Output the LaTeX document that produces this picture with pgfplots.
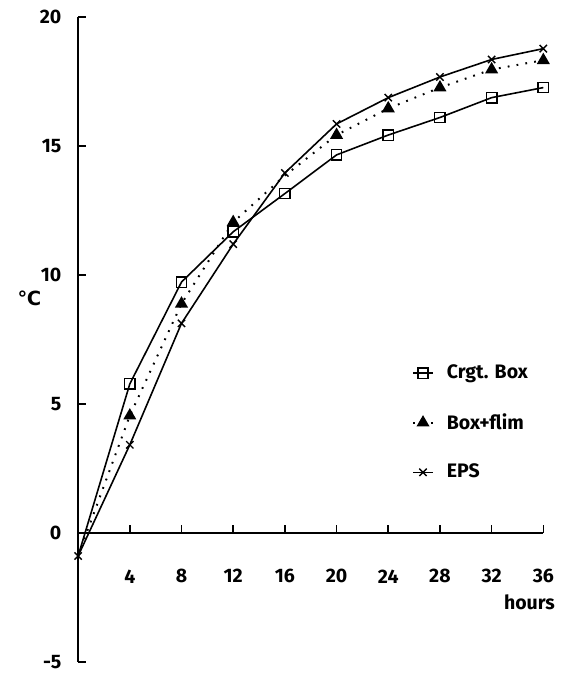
\documentclass[border=0pt]{standalone}
\usepackage{pgfplots}
\pgfplotsset{compat=1.18}
\usepackage{fontspec}
\setmainfont{Fira Sans}
\newfontfamily\symfont{DejaVu Sans}
\begin{document}
\fontsize{9.8}{11.5}\selectfont\bfseries
\begin{tikzpicture}
\path (-39.25pt,-5pt) rectangle (244.75pt,332.5pt);
\begin{axis}[
  at={(0pt,0pt)}, anchor=south west,
  scale only axis,
  width=233.75pt, height=324pt,
  xmin=0, xmax=36, ymin=-5, ymax=20,
  axis x line=middle, axis y line=left,
  axis line style={-, line width=0.8pt},
  xtick={4,8,...,36}, ytick={-5,0,5,10,15,20},
  tick align=inside,
  major tick length=4pt,
  tick style={line width=0.8pt, black},
  /pgf/number format/assume math mode=true,
  xticklabel style={yshift=-15pt, font=\fontsize{9.8}{11}\selectfont\bfseries},
  yticklabel style={xshift=-5pt, font=\fontsize{9.8}{11}\selectfont\bfseries},
  clip=false,
  legend style={draw=none, fill=none, at={(axis cs:25.35,6.84)}, anchor=north west,
    row sep=12pt, column sep=4.5pt,
    font=\fontsize{9.8}{11}\selectfont\bfseries, cells={anchor=west}},
  legend cell align=left,
  legend image code/.code={\draw[#1, mark indices={2}] plot coordinates {(0pt,0pt) (5pt,0pt) (10pt,0pt)};},
]
\addplot[black, line width=0.8pt, mark=square, mark size=2.6pt, mark options={solid, fill=white, line width=0.7pt},
  mark indices={2,3,4,5,6,7,8,9,10}]
  coordinates {(0,-0.9) (4,5.77) (8,9.72) (12,11.67) (16,13.15) (20,14.65) (24,15.42) (28,16.1) (32,16.87) (36,17.26)};
\addlegendentry{Crgt. Box}
\addplot[black, line width=1pt, dash pattern=on 0.9pt off 3.6pt, mark=triangle*, mark size=2.8pt, mark options={solid, fill=black},
  mark indices={2,3,4,6,7,8,9,10}]
  coordinates {(0,-0.9) (4,4.54) (8,8.88) (12,12.04) (16,13.85) (20,15.42) (24,16.45) (28,17.26) (32,17.96) (36,18.32)};
\addlegendentry{Box+flim}
\addplot[black, line width=0.8pt, mark=x, mark size=2.6pt, mark options={solid, line width=0.7pt}]
  coordinates {(0,-0.9) (4,3.41) (8,8.12) (12,11.19) (16,13.95) (20,15.85) (24,16.87) (28,17.67) (32,18.35) (36,18.77)};
\addlegendentry{EPS}
\node[anchor=east, inner sep=0pt] at (axis cs:36,0) [xshift=6pt, yshift=-35pt] {hours};
\node[inner sep=0pt] at (axis cs:0,9.1) [xshift=-24.5pt] {{\symfont\bfseries ℃}};
\end{axis}
\end{tikzpicture}
\end{document}
